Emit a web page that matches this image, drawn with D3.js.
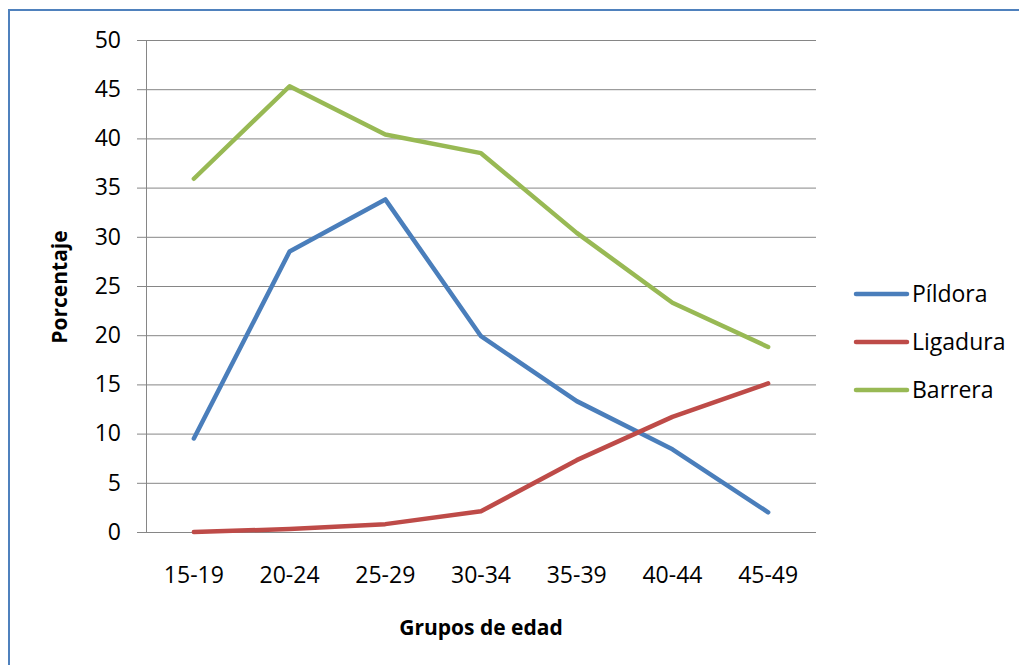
<!DOCTYPE html>
<html><head><meta charset="utf-8">
<script src="https://cdn.jsdelivr.net/npm/d3@7"></script>
<style>body{margin:0;background:#fff;} svg{display:block;font-family:"Open Sans","Noto Sans",sans-serif;}</style>
</head><body><svg id="c" width="1019" height="665"></svg>
<script>
const categories = ["15-19","20-24","25-29","30-34","35-39","40-44","45-49"];
const pildora  = [9.5, 28.5, 33.8, 19.9, 13.3, 8.4, 2.0];
const ligadura = [0.0, 0.3, 0.8, 2.1, 7.3, 11.7, 15.1];
const barrera  = [35.9, 45.3, 40.4, 38.5, 30.4, 23.3, 18.8];
const seriesNames = ["Píldora","Ligadura","Barrera"];
const seriesColors = ["#4a7ebb","#be4b48","#98b954"];
const yTicks = [0,5,10,15,20,25,30,35,40,45,50];

const svg = d3.select("#c");
// outer border
svg.append("line").attr("x1",8).attr("x2",1019).attr("y1",10).attr("y2",10).attr("stroke","#4f81bd").attr("stroke-width",2);
svg.append("line").attr("x1",9).attr("x2",9).attr("y1",9).attr("y2",665).attr("stroke","#4f81bd").attr("stroke-width",2);

const L=146,R=816,T=40,B=532;
const x = d3.scaleBand().domain(categories).range([L,R]);
const y = d3.scaleLinear().domain([0,50]).range([B,T]);

// gridlines
svg.append("g").selectAll("line").data(yTicks).join("line")
  .attr("x1",137).attr("x2",R).attr("y1",d=>y(d)+0.5).attr("y2",d=>y(d)+0.5)
  .attr("stroke","#868686").attr("stroke-width",1);
// y axis line
svg.append("line").attr("x1",L+0.5).attr("x2",L+0.5).attr("y1",T).attr("y2",B).attr("stroke","#868686");

const yAxis = d3.axisLeft(y).tickValues(yTicks).tickSize(0).tickPadding(25);
const gy = svg.append("g").attr("transform",`translate(${L},0)`).call(yAxis);
gy.select(".domain").remove();
gy.selectAll("text").attr("font-size",23).attr("fill","#000").attr("font-family","Open Sans, Noto Sans, sans-serif");

const xAxis = d3.axisBottom(x).tickSize(0).tickPadding(35);
const gx = svg.append("g").attr("transform",`translate(0,${B})`).call(xAxis);
gx.select(".domain").remove();
gx.selectAll("text").attr("font-size",23).attr("fill","#000").attr("font-family","Open Sans, Noto Sans, sans-serif");

const data = [pildora, ligadura, barrera];
const line = d3.line().x((d,i)=>x(categories[i])+x.bandwidth()/2).y(d=>y(d));
data.forEach((s,k)=>{
  svg.append("path").attr("d",line(s)).attr("fill","none").attr("stroke",seriesColors[k])
    .attr("stroke-width",4.5).attr("stroke-linejoin","round").attr("stroke-linecap","round");
});

// legend
seriesNames.forEach((n,k)=>{
  const ly = 294 + k*48;
  svg.append("line").attr("x1",856).attr("x2",907).attr("y1",ly).attr("y2",ly)
    .attr("stroke",seriesColors[k]).attr("stroke-width",4.5).attr("stroke-linecap","round");
  svg.append("text").attr("x",912).attr("y",ly+8).attr("font-size",23).attr("fill","#000").text(n);
});

// axis titles
svg.append("text").attr("x",481).attr("y",635).attr("text-anchor","middle")
  .attr("font-size",21).attr("font-weight","bold").text("Grupos de edad");
svg.append("text").attr("transform",`translate(67,287) rotate(-90)`).attr("text-anchor","middle")
  .attr("font-size",21).attr("font-weight","bold").text("Porcentaje");
</script></body></html>
